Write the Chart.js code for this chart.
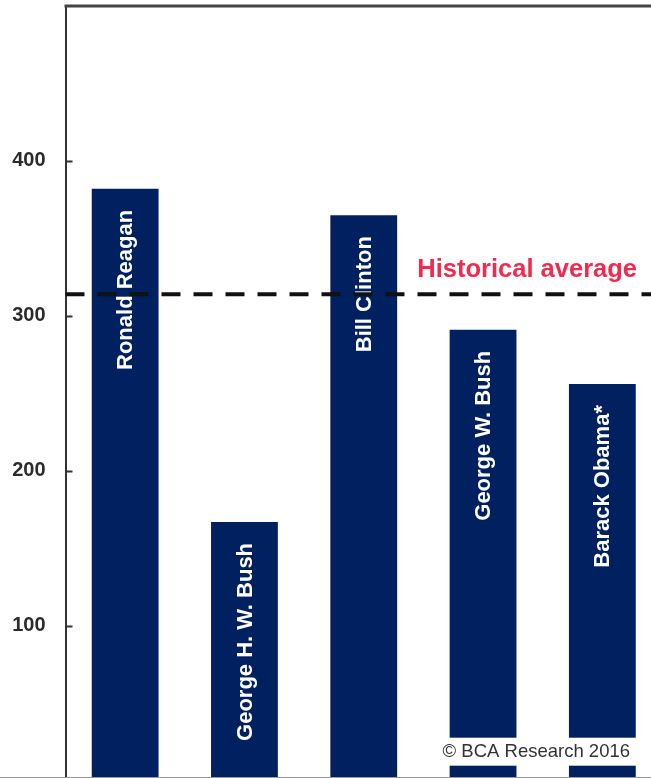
<!DOCTYPE html>
<html>
<head>
<meta charset="utf-8">
<script src="https://cdn.jsdelivr.net/npm/chart.js@4.4.1/dist/chart.umd.min.js"></script>
<style>
  html, body { margin: 0; padding: 0; background: #fff; overflow: hidden; }
  #frame { width: 651px; height: 777px; overflow: hidden; border-bottom: 1px solid #9a9a9a; }
  canvas { display: block; }
</style>
</head>
<body>
<div id="frame"><canvas id="chart" width="664" height="782"></canvas></div>
<script>
// data
const presidents = ['Ronald Reagan', 'George H. W. Bush', 'Bill Clinton', 'George W. Bush', 'Barack Obama*'];
const values = [382, 167, 365, 291, 256];
const historicalAverage = 314;
const yTicks = [100, 200, 300, 400];
const yMin = 0;
const yMax = 500;
const avgLabel = 'Historical average';
const sourceNote = '\u00A9 BCA Research 2016';

const FONT = '"Liberation Sans", Arial, sans-serif';

// names inside bars, dashed average line, notes
const overlay = {
  id: 'overlay',
  afterDatasetsDraw(chart) {
    const { ctx, chartArea: area, scales: { y } } = chart;
    const meta = chart.getDatasetMeta(0);
    ctx.save();

    ctx.fillStyle = '#ffffff';
    ctx.font = 'bold 22px ' + FONT;
    ctx.textAlign = 'right';
    ctx.textBaseline = 'middle';
    meta.data.forEach((bar, i) => {
      ctx.save();
      ctx.translate(bar.x + 1, bar.y + 21);
      ctx.rotate(-Math.PI / 2);
      ctx.fillText(presidents[i], 0, 0);
      ctx.restore();
    });

    const ay = y.getPixelForValue(historicalAverage);
    ctx.strokeStyle = '#111111';
    ctx.lineWidth = 4;
    ctx.setLineDash([19, 13]);
    ctx.beginPath();
    ctx.moveTo(area.left, ay);
    ctx.lineTo(chart.width, ay);
    ctx.stroke();
    ctx.setLineDash([]);

    ctx.fillStyle = '#ef2b4f';
    ctx.font = 'bold 25.5px ' + FONT;
    ctx.textAlign = 'right';
    ctx.textBaseline = 'alphabetic';
    ctx.fillText(avgLabel, area.right - 25, ay - 17);

    // source note on a white box
    ctx.font = '18.5px ' + FONT;
    const w = ctx.measureText(sourceNote).width;
    const nx = area.right - 32;
    const ny = area.bottom - 29;
    ctx.fillStyle = '#ffffff';
    ctx.fillRect(nx - w - 4, ny - 14, w + 14, 28);
    ctx.fillStyle = '#333333';
    ctx.textBaseline = 'middle';
    ctx.fillText(sourceNote, nx, ny);

    ctx.restore();
  },
  afterDraw(chart) {
    const { ctx, chartArea: area, scales: { y } } = chart;
    ctx.save();
    // top frame line
    ctx.strokeStyle = '#444444';
    ctx.lineWidth = 3;
    ctx.beginPath();
    ctx.moveTo(area.left - 1, area.top);
    ctx.lineTo(chart.width, area.top);
    ctx.stroke();
    // tick marks pointing inwards
    ctx.lineWidth = 2;
    ctx.strokeStyle = '#333333';
    yTicks.forEach(v => {
      const py = Math.round(y.getPixelForValue(v)) + 0.5;
      ctx.beginPath();
      ctx.moveTo(area.left, py);
      ctx.lineTo(area.left + 7, py);
      ctx.stroke();
    });
    ctx.restore();
  }
};

new Chart(document.getElementById('chart'), {
  type: 'bar',
  data: {
    labels: presidents,
    datasets: [{
      data: values,
      backgroundColor: '#00205f',
      borderWidth: 0,
      barPercentage: 0.56,
      categoryPercentage: 1
    }]
  },
  options: {
    responsive: false,
    animation: false,
    devicePixelRatio: 1,
    layout: { padding: { top: 6, right: 2, bottom: 1.3, left: 0 } },
    plugins: {
      legend: { display: false },
      tooltip: { enabled: false }
    },
    scales: {
      x: { display: false },
      y: {
        min: yMin,
        max: yMax,
        grid: { display: false },
        border: { display: true, color: '#333333', width: 2 },
        afterBuildTicks(scale) {
          scale.ticks = yTicks.map(v => ({ value: v }));
        },
        afterFit(scale) {
          scale.width = 65.5;
          scale.paddingTop = 0;
          scale.paddingBottom = 0;
        },
        ticks: {
          padding: 12,
          color: '#2b2b2b',
          font: { family: FONT, size: 20, weight: 'bold' }
        }
      }
    }
  },
  plugins: [overlay]
});
</script>
</body>
</html>
